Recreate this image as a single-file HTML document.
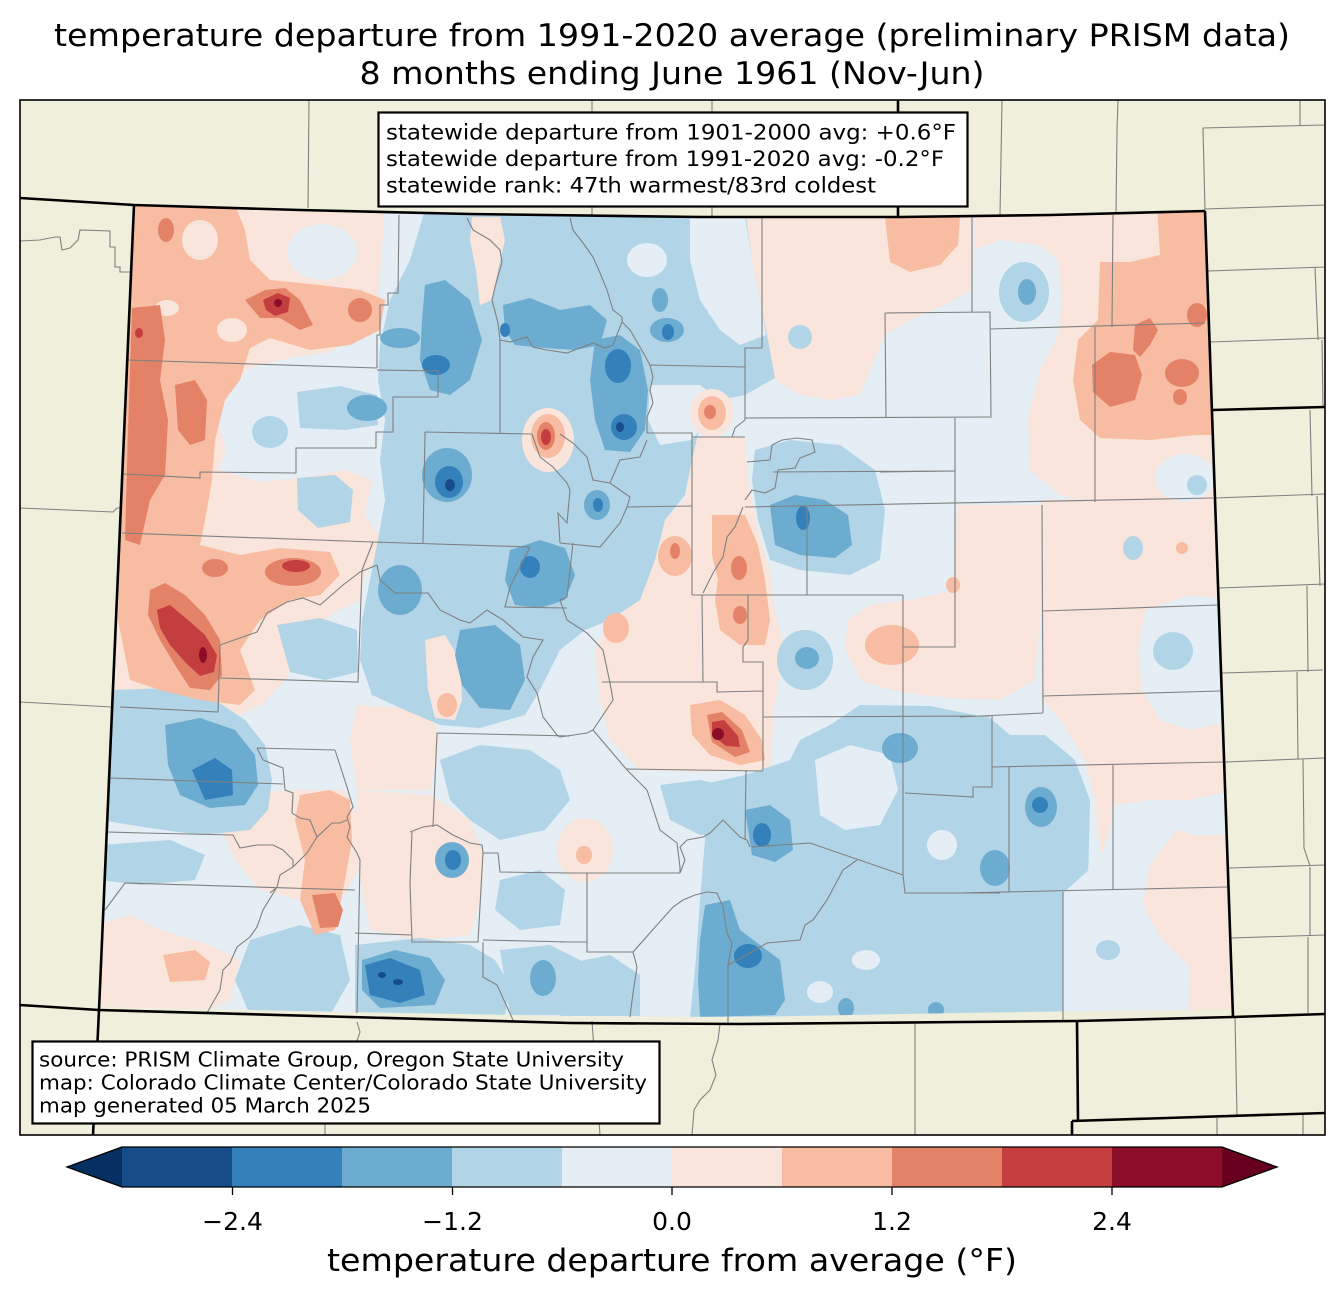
<!DOCTYPE html>
<html><head><meta charset="utf-8"><style>html,body{margin:0;padding:0;background:#fff}svg{display:block}text{font-family:"DejaVu Sans","Liberation Sans",sans-serif;fill:#000}</style></head><body>
<svg width="1344" height="1299" viewBox="0 0 1344 1299" xmlns="http://www.w3.org/2000/svg">
<rect x="0" y="0" width="1344" height="1299" fill="#fff"/>
<rect x="20" y="100" width="1305" height="1035" fill="#efefdb"/>
<defs><clipPath id="co"><polygon points="134,205 300,210 470,214 700,217 900,217 1050,215 1205,211 1233,1009 960,1013 740,1017 570,1016 350,1012 99,1007"/></clipPath></defs>
<g clip-path="url(#co)">
<rect x="90" y="200" width="1150" height="820" fill="#e4eef4"/>
<g fill="#f9e5db">
<path d="M110,200 L385,200 L382,250 L378,300 L368,332 L330,352 L290,358 L250,368 L228,385 L218,420 L226,450 L218,470 L260,482 L300,478 L345,470 L372,480 L365,515 L385,545 L365,575 L360,600 L330,615 L300,645 L285,680 L262,705 L235,717 L150,705 L90,706 Z"/>
<path d="M745,200 L975,200 L972,290 L945,305 L910,320 L885,335 L870,370 L860,395 L830,400 L800,395 L775,380 L765,340 L758,290 L750,250 Z"/>
<path d="M975,200 L1240,200 L1240,505 L1150,500 L1095,503 L1060,495 L1030,470 L1028,420 L1040,370 L1058,335 L1062,300 L1058,260 L1040,245 L1000,240 L975,250 Z"/>
<path d="M693,437 L745,437 L748,480 L758,530 L770,570 L775,610 L785,650 L775,700 L770,770 L700,772 L640,770 L610,740 L600,700 L595,650 L610,620 L640,600 L655,560 L665,520 L685,500 L690,470 Z"/>
<path d="M957,505 L1042,505 L1045,560 L1040,620 L1035,680 L1000,700 L950,698 L900,692 L862,682 L845,650 L848,620 L870,605 L920,598 L955,590 Z"/>
<path d="M1042,500 L1240,495 L1240,1015 L1140,1015 L1135,960 L1120,900 L1100,850 L1095,800 L1085,760 L1060,720 L1043,700 Z"/>
<path d="M225,795 L300,790 L345,790 L360,820 L358,870 L345,895 L300,900 L260,890 L235,860 L222,830 Z"/>
<path d="M95,925 L130,915 L160,930 L210,945 L240,960 L230,1000 L200,1015 L95,1015 Z"/>
<path d="M357,790 L430,795 L470,820 L485,860 L480,900 L470,935 L420,940 L370,930 L360,880 Z"/>
<path d="M357,705 L430,710 L440,740 L430,790 L357,790 L350,740 Z"/>
<ellipse cx="585" cy="850" rx="28" ry="32"/>
</g>
<g fill="#b2d4e7">
<path d="M425,210 L745,210 L752,260 L760,300 L768,340 L775,378 L745,395 L720,400 L700,425 L692,460 L685,495 L665,520 L655,560 L640,600 L610,620 L585,630 L560,650 L540,690 L525,715 L480,728 L440,725 L405,710 L372,695 L360,660 L362,620 L370,580 L378,540 L385,500 L380,460 L385,420 L378,380 L380,345 L390,300 L410,260 Z"/>
<ellipse cx="270" cy="432" rx="18" ry="16"/>
<path d="M297,392 L340,386 L377,395 L378,425 L345,430 L300,428 Z"/>
<path d="M297,478 L335,475 L353,490 L350,522 L318,528 L298,510 Z"/>
<path d="M277,625 L320,618 L357,630 L358,672 L325,680 L290,672 Z"/>
<path d="M112,690 L170,688 L215,700 L245,720 L265,745 L272,780 L268,810 L250,830 L200,835 L150,828 L100,820 Z"/>
<path d="M100,845 L170,840 L205,855 L195,880 L140,885 L100,880 Z"/>
<path d="M250,940 L300,925 L340,935 L350,980 L330,1015 L250,1015 L235,980 Z"/>
<path d="M440,760 L480,745 L530,750 L560,770 L570,800 L545,830 L500,840 L470,820 L450,800 Z"/>
<path d="M500,880 L540,870 L565,890 L560,925 L520,930 L495,910 Z"/>
<path d="M355,945 L420,938 L470,945 L495,960 L510,985 L505,1015 L355,1015 Z"/>
<path d="M500,950 L550,945 L580,960 L575,1015 L510,1015 Z"/>
<path d="M700,785 L745,775 L790,760 L800,740 L830,725 L860,705 L930,706 L990,718 L1010,735 L1045,735 L1075,760 L1090,800 L1088,880 L1080,950 L1068,1015 L690,1017 L695,970 L700,900 L705,840 Z"/>
<path d="M660,785 L700,780 L745,790 L740,830 L700,835 L670,820 Z"/>
<path d="M560,965 L610,955 L640,975 L640,1016 L560,1016 Z"/>
<path d="M755,450 L790,440 L840,445 L875,470 L885,510 L880,560 L850,575 L800,570 L770,560 L758,520 L752,480 Z"/>
<ellipse cx="805" cy="660" rx="28" ry="30"/>
<ellipse cx="1024" cy="292" rx="25" ry="30"/>
<ellipse cx="1173" cy="651" rx="20" ry="19"/>
<ellipse cx="1197" cy="485" rx="10" ry="10"/>
<ellipse cx="1133" cy="548" rx="10" ry="12"/>
<ellipse cx="1108" cy="950" rx="12" ry="10"/>
<ellipse cx="800" cy="337" rx="12" ry="12"/>
</g>
<g fill="#e4eef4">
<ellipse cx="322" cy="252" rx="35" ry="28"/>
<ellipse cx="647" cy="260" rx="20" ry="17"/>
<path d="M690,217 L745,217 L752,260 L760,300 L766,335 L740,345 L720,330 L700,300 L690,260 Z"/>
<path d="M650,385 L700,385 L720,400 L700,430 L692,440 L660,445 L648,420 Z"/>
<path d="M815,760 L850,745 L890,755 L898,790 L880,825 L845,830 L820,815 Z"/>
<ellipse cx="942" cy="845" rx="15" ry="15"/>
<ellipse cx="866" cy="960" rx="14" ry="10"/>
<ellipse cx="820" cy="992" rx="13" ry="11"/>
<ellipse cx="1185" cy="478" rx="30" ry="24"/>
<path d="M1145,610 L1190,595 L1235,600 L1235,720 L1190,730 L1160,720 L1142,690 L1138,650 Z"/>
<path d="M1113,805 L1150,800 L1190,800 L1235,790 L1235,835 L1195,835 L1177,830 L1150,865 L1143,905 L1160,937 L1190,967 L1188,1015 L1063,1015 L1063,893 L1100,860 L1110,830 Z"/>
</g>
<g fill="#b2d4e7"><ellipse cx="1173" cy="651" rx="20" ry="19"/><ellipse cx="1197" cy="485" rx="10" ry="10"/><ellipse cx="1108" cy="950" rx="12" ry="10"/></g>
<g fill="#f9e5db">
<path d="M472,217 L500,217 L505,240 L498,270 L492,300 L480,305 L476,270 L470,240 Z"/>
<path d="M425,640 L445,635 L460,660 L462,700 L455,720 L435,718 L428,690 Z"/>
<ellipse cx="548" cy="440" rx="26" ry="32"/>
<ellipse cx="712" cy="413" rx="22" ry="24"/>
</g>
<g fill="#f7bca1">
<path d="M130,205 L235,205 L245,230 L250,260 L270,280 L320,285 L360,290 L385,300 L380,330 L350,345 L310,350 L270,338 L250,348 L240,380 L225,400 L215,440 L212,480 L205,520 L200,545 L160,540 L120,545 L128,300 Z"/>
<path d="M120,540 L160,530 L200,545 L240,555 L280,548 L330,552 L340,575 L320,595 L290,600 L260,620 L240,650 L255,690 L240,705 L200,700 L160,690 L130,680 L118,620 Z"/>
<path d="M300,795 L330,790 L350,800 L352,840 L345,880 L335,930 L315,935 L300,900 L305,860 L295,820 Z"/>
<path d="M163,955 L195,950 L210,962 L205,980 L170,982 Z"/>
<path d="M712,515 L745,515 L758,545 L765,580 L770,620 L765,645 L740,645 L720,630 L715,600 L718,580 L712,555 Z"/>
<ellipse cx="675" cy="556" rx="17" ry="20"/>
<ellipse cx="616" cy="628" rx="13" ry="15"/>
<ellipse cx="712" cy="413" rx="14" ry="17"/>
<ellipse cx="548" cy="436" rx="17" ry="22"/>
<path d="M690,705 L720,700 L745,715 L762,740 L765,760 L740,765 L710,755 L692,735 Z"/>
<ellipse cx="892" cy="645" rx="27" ry="20"/>
<path d="M885,217 L960,217 L958,245 L940,265 L910,272 L890,262 Z"/>
<path d="M1157,205 L1240,205 L1240,435 L1195,435 L1150,440 L1100,438 L1080,420 L1073,380 L1078,340 L1098,320 L1100,262 L1130,262 L1160,255 Z"/>
<ellipse cx="1182" cy="548" rx="6" ry="6"/>
<ellipse cx="953" cy="585" rx="7" ry="8"/>
<ellipse cx="584" cy="855" rx="8" ry="9"/>
<ellipse cx="447" cy="705" rx="10" ry="12"/>
</g>
<g fill="#f9e5db"><ellipse cx="200" cy="240" rx="18" ry="20"/><ellipse cx="167" cy="308" rx="12" ry="8"/><ellipse cx="232" cy="330" rx="15" ry="12"/></g>
<g fill="#6bacd0">
<path d="M425,285 L445,280 L470,300 L482,340 L470,380 L450,395 L430,390 L420,360 L422,320 Z"/>
<ellipse cx="400" cy="338" rx="20" ry="10"/>
<ellipse cx="367" cy="408" rx="20" ry="13"/>
<ellipse cx="447" cy="475" rx="25" ry="27"/>
<path d="M503,305 L530,298 L560,310 L590,305 L607,320 L600,345 L575,350 L545,348 L515,345 L505,330 Z"/>
<path d="M595,340 L620,335 L640,350 L648,390 L645,430 L630,452 L605,450 L595,420 L590,380 Z"/>
<ellipse cx="667" cy="330" rx="17" ry="12"/>
<ellipse cx="660" cy="300" rx="8" ry="12"/>
<ellipse cx="597" cy="505" rx="13" ry="15"/>
<path d="M510,550 L540,540 L565,548 L575,575 L565,600 L540,608 L515,605 L505,580 Z"/>
<path d="M770,505 L795,495 L825,500 L848,515 L852,545 L835,558 L800,555 L775,545 Z"/>
<ellipse cx="807" cy="658" rx="12" ry="11"/>
<path d="M165,725 L200,718 L235,730 L255,755 L258,785 L245,805 L210,808 L180,795 L168,765 Z"/>
<ellipse cx="400" cy="590" rx="22" ry="25"/>
<path d="M460,630 L495,625 L520,645 L525,680 L510,710 L480,708 L462,685 L455,655 Z"/>
<ellipse cx="452" cy="860" rx="17" ry="18"/>
<path d="M362,960 L395,950 L430,958 L445,980 L435,1005 L380,1008 L362,990 Z"/>
<ellipse cx="543" cy="978" rx="13" ry="18"/>
<path d="M705,905 L730,900 L740,930 L760,945 L780,960 L785,1000 L775,1015 L700,1017 L698,980 L700,940 Z"/>
<path d="M745,810 L770,805 L790,820 L793,850 L775,862 L752,855 Z"/>
<ellipse cx="900" cy="748" rx="18" ry="15"/>
<ellipse cx="1041" cy="807" rx="16" ry="20"/>
<ellipse cx="995" cy="868" rx="15" ry="18"/>
<ellipse cx="1027" cy="292" rx="9" ry="13"/>
<ellipse cx="846" cy="1008" rx="8" ry="10"/>
<ellipse cx="936" cy="1010" rx="8" ry="8"/>
</g>
<g fill="#e48268">
<path d="M132,308 L160,305 L165,340 L160,380 L168,420 L165,475 L150,500 L140,545 L125,540 L128,430 Z"/>
<path d="M175,385 L195,380 L207,400 L205,440 L190,445 L178,430 Z"/>
<path d="M245,300 L265,290 L285,288 L300,300 L313,325 L300,330 L280,318 L260,318 Z"/>
<ellipse cx="360" cy="310" rx="12" ry="12"/>
<ellipse cx="166" cy="230" rx="8" ry="12"/>
<path d="M150,590 L165,583 L185,595 L205,615 L220,640 L222,675 L210,690 L190,688 L175,665 L160,640 L148,615 Z"/>
<ellipse cx="215" cy="568" rx="13" ry="9"/>
<ellipse cx="293" cy="572" rx="28" ry="14"/>
<path d="M312,895 L335,893 L343,910 L338,927 L320,928 Z"/>
<path d="M707,715 L722,712 L742,730 L750,752 L735,757 L712,742 Z"/>
<path d="M1092,365 L1110,352 L1135,355 L1142,375 L1135,400 L1110,407 L1093,392 Z"/>
<path d="M1135,325 L1150,318 L1158,330 L1150,345 L1140,357 L1133,350 Z"/>
<ellipse cx="1182" cy="373" rx="17" ry="14"/>
<ellipse cx="1180" cy="397" rx="7" ry="8"/>
<ellipse cx="1197" cy="315" rx="10" ry="12"/>
<ellipse cx="739" cy="568" rx="8" ry="12"/>
<ellipse cx="740" cy="615" rx="7" ry="9"/>
<ellipse cx="675" cy="551" rx="5" ry="8"/>
<ellipse cx="710" cy="412" rx="6" ry="7"/>
<ellipse cx="546" cy="436" rx="9" ry="14"/>
</g>
<g fill="#3480ba">
<ellipse cx="436" cy="365" rx="14" ry="10"/>
<ellipse cx="449" cy="482" rx="14" ry="16"/>
<ellipse cx="618" cy="366" rx="13" ry="17"/>
<ellipse cx="624" cy="427" rx="13" ry="13"/>
<ellipse cx="530" cy="567" rx="10" ry="11"/>
<ellipse cx="803" cy="518" rx="7" ry="12"/>
<path d="M192,770 L215,758 L232,770 L233,795 L205,800 Z"/>
<path d="M365,965 L390,958 L420,970 L425,995 L400,1003 L370,995 Z"/>
<ellipse cx="453" cy="860" rx="8" ry="10"/>
<ellipse cx="762" cy="835" rx="9" ry="12"/>
<ellipse cx="748" cy="956" rx="14" ry="12"/>
<ellipse cx="1040" cy="805" rx="8" ry="8"/>
<ellipse cx="668" cy="332" rx="6" ry="8"/>
<ellipse cx="505" cy="330" rx="5" ry="7"/>
<ellipse cx="598" cy="505" rx="5" ry="7"/>
</g>
<g fill="#c43e3f">
<path d="M263,300 L278,293 L290,298 L288,312 L275,316 L266,310 Z"/>
<path d="M157,610 L170,605 L188,620 L205,635 L217,655 L214,672 L200,676 L185,662 L170,645 L160,628 Z"/>
<ellipse cx="296" cy="566" rx="14" ry="6"/>
<path d="M712,722 L724,720 L738,736 L740,747 L726,746 L712,735 Z"/>
<ellipse cx="546" cy="437" rx="5" ry="8"/>
<ellipse cx="139" cy="333" rx="4" ry="5"/>
</g>
<g fill="#164c88">
<ellipse cx="450" cy="485" rx="5" ry="6"/>
<ellipse cx="382" cy="975" rx="4" ry="3"/>
<ellipse cx="398" cy="982" rx="5" ry="3"/>
<ellipse cx="620" cy="427" rx="4" ry="5"/>
</g>
<g fill="#8b0d27">
<ellipse cx="203" cy="655" rx="4" ry="8"/>
<ellipse cx="718" cy="734" rx="6" ry="6"/>
<ellipse cx="278" cy="303" rx="4" ry="4"/>
</g>
</g>
<g fill="none" stroke="#808080" stroke-width="1.1">
<path d="M128,360 L377,368 M377,368 L377,335 L380,335 L380,305 L388,305 L388,293 L398,293 L399,215 M377,370 L438,371 L438,397 M123,474 L200,478 L200,472 L296,473 L296,448 L376,448 L376,432 L393,432 L393,397 L438,397 M425,432 L532,434 M425,432 L423,543 M122,533 L373,542 L530,547"/>
<path d="M467,218 L473,230 L490,240 L500,250 L502,262 L495,287 L492,300 L498,323 L500,340 L500,433 M500,340 L510,342 L527,337 L533,347 L547,350 L567,353 L580,348 L593,343 L605,348 L613,345 L622,322 M570,218 L573,230 L583,243 L593,257 L600,273 L607,290 L613,310 L622,317 L622,322 L630,330 L640,347 L650,365 L653,377 L650,390 L653,403 L647,417 L647,433 M650,365 L745,367 M762,217 L762,348 L745,348 L745,420 M745,418 L990,417 M885,313 L886,418 M885,313 L990,312 L991,418 M647,433 L692,433 L692,595 M692,437 L745,437 M745,420 L735,428 L732,437"/>
<path d="M747,462 L770,460 L772,445 L782,440 L797,438 L812,440 L815,452 L800,458 L795,468 L778,470 L775,488 L765,493 L752,490 L745,500 M773,472 L955,471 M745,507 L1213,498 M807,507 L807,595 M692,595 L903,595 M702,595 L703,682 M748,595 L748,640 L743,647 L743,662 L763,662 L763,770 M602,682 L717,682 L717,692 L763,691 M743,507 L735,527 L727,537 L723,557 L713,573 L703,593"/>
<path d="M532,434 L540,457 L553,467 L567,483 L570,490 L567,523 L558,513 L560,543 M560,434 L573,443 L587,457 L593,480 L610,483 L620,460 L640,457 L647,440 M610,483 L630,497 L627,507 L692,506 M560,543 L600,547 L620,523 L627,507 M573,543 L567,597 L560,600 M530,547 L510,587 L505,607 L567,608 M560,600 L567,620 L587,633 L603,650 L610,683 L613,700 L593,730 L587,733 L560,737"/>
<path d="M377,565 L380,580 L395,593 L428,593 L440,610 L460,620 L470,623 L487,610 L503,620 L523,637 L543,640 L533,657 L527,677 L537,693 L543,717 L557,735 L560,737 M593,730 L627,770 L647,790 L660,830 L677,843 L680,867 L680,873 M627,769 L763,771 M746,770 L745,840 M752,847 L810,843 L903,875 M857,860 L843,870 L827,900 L813,920 L805,925 L800,940 L767,943 L743,957 L728,965 L728,1023 M728,965 L732,943 L727,933 L723,907 L717,893 L707,892 L695,895 L683,900 L673,907 L633,952 L637,967 L633,993 L630,1017 M587,873 L587,952 L633,952 M560,942 L587,942 M560,873 L680,873 M680,873 L685,860 L680,847 L687,840 L703,837 L710,833 L723,820 L730,827 L740,837 L747,840 L750,847"/>
<path d="M763,717 L990,716 M903,595 L903,875 L905,893 L1000,893 M992,715 L992,787 L973,787 L973,797 L905,793 M960,717 L1043,713 M1043,696 L1220,691 M1043,611 L1217,605 M1042,505 L1043,713 M955,418 L955,647 L903,647 M880,472 L955,471 M972,217 L972,312 M1113,215 L1112,327 M990,329 L1205,323 M1095,327 L1095,502 M992,767 L1223,762 M1009,767 L1009,892 M1113,765 L1113,890 M960,893 L1227,887 M1063,892 L1063,1020"/>
<path d="M120,707 L218,712 L220,645 L257,632 L267,613 L287,602 L303,598 L320,605 L343,585 L360,572 L377,565 M220,678 L358,682 L362,570 L373,542 M437,733 L570,736 M437,733 L433,827 M110,778 L283,784 M257,748 L335,750 M257,748 L263,760 L283,768 L285,790 L293,793 L292,813 L300,818 L310,820 L317,837 L332,823 L340,823 L347,820 M335,750 L347,787 L353,807 L347,817 L350,827 L347,837 L357,853 L360,860 L357,1013 M108,832 L143,833 L233,835 L240,848 L257,845 L273,845 L283,850 L293,860 L293,867 L280,875 L277,887 L270,893 M317,837 L307,853 L300,860 L293,867 M125,883 L355,890 M125,883 L105,910 M277,887 L263,910 L257,927 L250,937 L237,947 L230,963 L223,970 L220,990 L207,1013 M410,832 L423,827 L437,825 L453,835 L470,843 L482,845 L483,853 L498,853 L500,872 L570,873 M412,832 L410,883 L412,942 L478,942 L483,853 M355,933 L412,935 M483,940 L570,942 M483,942 L483,977 L497,985 L513,1020"/>
<path d="M309,100 L308,208 M592,100 L592,216 M712,100 L712,217 M1002,100 L1000,216 M1118,100 L1117,130 L1116,214 M1203,128 L1205,211 M1203,128 L1325,125 M1300,100 L1300,126 M1205,209 L1325,205 M1208,271 L1325,267 M1210,342 L1325,338 M1315,267 L1318,340 M1322,340 L1323,408 M1215,498 L1325,494 M1219,588 L1325,584 M1310,410 L1312,496 M1317,496 L1320,586 M1307,586 L1308,672 M1222,673 L1323,670 M1297,672 L1298,759 M1225,762 L1325,758 M1303,759 L1304,848 L1310,866 M1229,868 L1325,865 M1310,867 L1310,936 M1231,938 L1325,935 M1308,937 L1308,1013 M1235,1017 L1237,1117 M1217,1118 L1217,1135 M1303,1113 L1303,1135"/>
<path d="M20,241 L40,240 L55,237 L60,237 L62,250 L70,248 L78,240 L80,230 L110,231 L110,247 L115,247 L115,267 L120,267 L120,272 L130,272 M20,508 L113,512 L117,508 L122,508 M20,702 L112,707"/>
<path d="M357,1022 L360,1032 L357,1041 M325,1123 L325,1135 M592,1021 L600,1135 M720,1024 L718,1040 L712,1060 L716,1075 L710,1090 L700,1100 L694,1110 L692,1135 M915,1022 L915,1135"/>
</g>
<g fill="none" stroke="#000" stroke-width="2.6" stroke-linejoin="round">
<path d="M20,198 L134,205 L300,210 L470,214 L700,217 L900,217 L1050,215 L1205,211"/>
<path d="M898,100 L898,217"/>
<path d="M1205,211 L1233,1017"/>
<path d="M1212,410 L1325,407"/>
<path d="M20,1005 L99,1010 L350,1017 L570,1023 L740,1024 L960,1022 L1077,1021 L1233,1017 L1325,1014"/>
<path d="M134,205 L99,1010 L93,1135"/>
<path d="M1077,1021 L1078,1121"/>
<path d="M1072,1121 L1325,1113"/>
<path d="M1072,1121 L1072,1135"/>
</g>
<rect x="20" y="100" width="1305" height="1035" fill="none" stroke="#000" stroke-width="1.6"/>
<rect x="378.5" y="112.5" width="589" height="94" fill="#fff" stroke="#000" stroke-width="2.2"/>
<text x="386" y="139.5" font-size="21" textLength="570" lengthAdjust="spacingAndGlyphs">statewide departure from 1901-2000 avg: +0.6°F</text>
<text x="386" y="166" font-size="21" textLength="558" lengthAdjust="spacingAndGlyphs">statewide departure from 1991-2020 avg: -0.2°F</text>
<text x="386" y="192.5" font-size="21" textLength="490" lengthAdjust="spacingAndGlyphs">statewide rank: 47th warmest/83rd coldest</text>
<rect x="32.5" y="1041.5" width="627" height="82" fill="#fff" stroke="#000" stroke-width="2.2"/>
<text x="39" y="1066.5" font-size="20" textLength="585" lengthAdjust="spacingAndGlyphs">source: PRISM Climate Group, Oregon State University</text>
<text x="39" y="1089.5" font-size="20" textLength="608" lengthAdjust="spacingAndGlyphs">map: Colorado Climate Center/Colorado State University</text>
<text x="39" y="1112.5" font-size="20" textLength="332" lengthAdjust="spacingAndGlyphs">map generated 05 March 2025</text>
<text x="672" y="46" font-size="31" text-anchor="middle" textLength="1236" lengthAdjust="spacingAndGlyphs">temperature departure from 1991-2020 average (preliminary PRISM data)</text>
<text x="672" y="84" font-size="31" text-anchor="middle" textLength="625" lengthAdjust="spacingAndGlyphs">8 months ending June 1961 (Nov-Jun)</text>
<polygon points="67,1167 122,1147 122,1187" fill="#053061"/>
<rect x="122" y="1147" width="111" height="40" fill="#164c88"/>
<rect x="232" y="1147" width="111" height="40" fill="#3480ba"/>
<rect x="342" y="1147" width="111" height="40" fill="#6bacd0"/>
<rect x="452" y="1147" width="111" height="40" fill="#b2d4e7"/>
<rect x="562" y="1147" width="111" height="40" fill="#e4eef4"/>
<rect x="672" y="1147" width="111" height="40" fill="#f9e5db"/>
<rect x="782" y="1147" width="111" height="40" fill="#f7bca1"/>
<rect x="892" y="1147" width="111" height="40" fill="#e48268"/>
<rect x="1002" y="1147" width="111" height="40" fill="#c43e3f"/>
<rect x="1112" y="1147" width="110" height="40" fill="#8b0d27"/>
<polygon points="1222,1147 1277,1167 1222,1187" fill="#67001f"/>
<polygon points="122,1147 67,1167 122,1187 1222,1187 1277,1167 1222,1147" fill="none" stroke="#000" stroke-width="1.3"/>
<g stroke="#000" stroke-width="1.3"><line x1="232.5" y1="1187" x2="232.5" y2="1195"/><line x1="452.5" y1="1187" x2="452.5" y2="1195"/><line x1="672" y1="1187" x2="672" y2="1195"/><line x1="892" y1="1187" x2="892" y2="1195"/><line x1="1112" y1="1187" x2="1112" y2="1195"/></g>
<g font-size="25" text-anchor="middle"><text x="232.5" y="1230">−2.4</text><text x="452.5" y="1230">−1.2</text><text x="672" y="1230">0.0</text><text x="892" y="1230">1.2</text><text x="1112" y="1230">2.4</text></g>
<text x="672" y="1271" font-size="31" text-anchor="middle" textLength="690" lengthAdjust="spacingAndGlyphs">temperature departure from average (°F)</text>
</svg>
</body></html>
